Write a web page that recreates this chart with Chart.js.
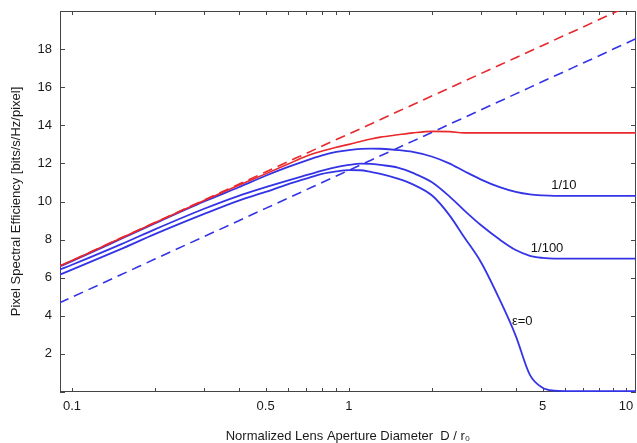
<!DOCTYPE html>
<html>
<head>
<meta charset="utf-8">
<script src="https://cdn.jsdelivr.net/npm/chart.js@4.4.1/dist/chart.umd.min.js"></script>
<style>
  html, body { margin: 0; padding: 0; background: #fff; }
  #wrap { width: 637px; height: 443px; }
</style>
</head>
<body>
<div id="wrap"><canvas id="chart" width="637" height="443"></canvas></div>
<script>
// D / r0 sample points (log axis)
const dRatio = [0.09, 0.1, 0.15, 0.2, 0.3, 0.4, 0.5, 0.6, 0.7, 0.8, 0.9, 1, 1.1, 1.2, 1.3, 1.5,
  1.7, 2, 2.3, 2.6, 3, 3.5, 4, 4.5, 5, 5.5, 6, 7, 8, 9, 11];

// red: dashed ideal and solid limit
const redIdeal = [6.6, 6.9, 8.08, 8.91, 10.08, 10.91, 11.55, 12.08, 12.52, 12.91, 13.25, 13.55,
  13.82, 14.07, 14.3, 14.72, 15.08, 15.55, 15.95, 16.31, 16.72, 17.16, 17.55, 17.89, 18.19,
  18.47, 18.72, 19.16, 19.55, 19.89, 20.46];
const redSolid = [6.62, 6.9, 8.07, 8.9, 10.05, 10.85, 11.45, 11.95, 12.38, 12.65, 12.85, 13.0,
  13.15, 13.28, 13.38, 13.5, 13.6, 13.68, 13.67, 13.6, 13.6, 13.6, 13.6, 13.6, 13.6, 13.6,
  13.6, 13.6, 13.6, 13.6, 13.6];

// blue: dashed ideal and the three epsilon curves
const blueIdeal = [4.68, 4.98, 6.15, 6.99, 8.16, 8.99, 9.64, 10.16, 10.61, 11.0, 11.34, 11.64,
  11.92, 12.17, 12.4, 12.81, 13.17, 13.64, 14.05, 14.4, 14.82, 15.26, 15.65, 15.99, 16.3,
  16.57, 16.82, 17.27, 17.65, 18.0, 18.58];
const eps10 = [6.58, 6.87, 8.03, 8.86, 10.0, 10.75, 11.35, 11.8, 12.15, 12.42, 12.6, 12.7,
  12.76, 12.78, 12.77, 12.7, 12.6, 12.35, 12.0, 11.6, 11.15, 10.75, 10.5, 10.37, 10.32,
  10.3, 10.3, 10.3, 10.3, 10.3, 10.3];
const eps100 = [6.42, 6.68, 7.75, 8.55, 9.62, 10.3, 10.75, 11.1, 11.38, 11.62, 11.8, 11.92,
  11.99, 11.98, 11.92, 11.78, 11.5, 11.0, 10.28, 9.55, 8.75, 8.0, 7.45, 7.15, 7.04, 7.0,
  7.0, 7.0, 7.0, 7.0, 7.0];
const eps0 = [6.15, 6.42, 7.5, 8.3, 9.35, 10.05, 10.5, 10.9, 11.2, 11.45, 11.58, 11.65,
  11.64, 11.55, 11.45, 11.2, 10.9, 10.3, 9.3, 8.15, 6.8, 4.85, 2.95, 0.9, 0.22, 0.07,
  0.05, 0.05, 0.05, 0.05, 0.05];

// ticks
const xTicks = [0.1, 0.2, 0.3, 0.4, 0.5, 0.6, 0.7, 0.8, 0.9, 1, 2, 3, 4, 5, 6, 7, 8, 9, 10];
const xLabels = ['0.1', '0.5', '1', '5', '10'];
const yTicks = [0, 2, 4, 6, 8, 10, 12, 14, 16, 18, 20];
const yLabels = ['2', '4', '6', '8', '10', '12', '14', '16', '18'];

const curveLabels = [
  { text: '1/10', x: 5.97, y: 10.87 },
  { text: '1/100', x: 5.19, y: 7.55 },
  { text: 'ε=0', x: 4.22, y: 3.73 }
];

const RED = '#e8282c';
const BLUE = '#3434e6';
const FONT = '"Liberation Sans", Arial, Helvetica, sans-serif';

const pts = ys => dRatio.map((x, i) => ({ x, y: ys[i] }));

function line(ys, color, dashed, width) {
  return {
    data: pts(ys),
    borderColor: color,
    borderWidth: width,
    borderDash: dashed ? [10, 6] : [],
    pointRadius: 0,
    fill: false,
    cubicInterpolationMode: 'monotone'
  };
}

// box + inward tick marks on all four sides (gnuplot style)
const frame = {
  id: 'frame',
  beforeDatasetsDraw(chart) {
    const { ctx, chartArea: a, scales: { x, y } } = chart;
    ctx.save();
    ctx.strokeStyle = '#444';
    ctx.lineWidth = 1;
    ctx.strokeRect(Math.round(a.left) + 0.5, Math.round(a.top) + 0.5,
      Math.round(a.right - a.left) - 1, Math.round(a.bottom - a.top) - 1);
    ctx.beginPath();
    x.ticks.forEach(t => {
      const px = Math.round(x.getPixelForValue(t.value)) + 0.5;
      ctx.moveTo(px, a.bottom); ctx.lineTo(px, a.bottom - 4);
      ctx.moveTo(px, a.top); ctx.lineTo(px, a.top + 4);
    });
    y.ticks.forEach(t => {
      const py = Math.round(y.getPixelForValue(t.value)) + 0.5;
      ctx.moveTo(a.left, py); ctx.lineTo(a.left + 5, py);
      ctx.moveTo(a.right, py); ctx.lineTo(a.right - 5, py);
    });
    ctx.stroke();
    ctx.restore();
  },
  afterDatasetsDraw(chart) {
    const { ctx, scales: { x, y } } = chart;
    ctx.save();
    ctx.fillStyle = '#111';
    ctx.font = '13px ' + FONT;
    ctx.textAlign = 'center';
    ctx.textBaseline = 'middle';
    curveLabels.forEach(l => {
      ctx.fillText(l.text, x.getPixelForValue(l.x), y.getPixelForValue(l.y));
    });
    ctx.restore();
  }
};

new Chart(document.getElementById('chart'), {
  type: 'line',
  data: {
    datasets: [
      line(redSolid, RED, false, 1.6),
      line(redIdeal, RED, true, 1.6),
      line(eps10, BLUE, false, 1.8),
      line(eps100, BLUE, false, 1.8),
      line(eps0, BLUE, false, 1.8),
      line(blueIdeal, BLUE, true, 1.6)
    ]
  },
  options: {
    responsive: false,
    animation: false,
    devicePixelRatio: 1,
    layout: { padding: { top: 11, right: 1, left: 0, bottom: 0 } },
    plugins: { legend: { display: false }, tooltip: { enabled: false } },
    scales: {
      x: {
        type: 'logarithmic',
        min: 0.0905,
        max: 10.87,
        afterBuildTicks: axis => { axis.ticks = xTicks.map(v => ({ value: v })); },
        afterFit: axis => {
          axis.height = 51;
          axis.paddingLeft = 0;
          axis.paddingRight = 0;
        },
        grid: { display: false, drawTicks: false },
        border: { display: false },
        ticks: {
          autoSkip: false,
          maxRotation: 0,
          padding: 7,
          color: '#1a1a1a',
          font: { family: FONT, size: 13 },
          callback: v => (xLabels.includes(String(v)) ? String(v) : '')
        },
        title: {
          display: true,
          text: 'Normalized Lens Aperture Diameter  D / r₀',
          color: '#1a1a1a',
          font: { family: FONT, size: 13 },
          padding: { top: 0, bottom: -1.5 }
        }
      },
      y: {
        min: 0,
        max: 20,
        afterBuildTicks: axis => { axis.ticks = yTicks.map(v => ({ value: v })); },
        afterFit: axis => {
          axis.width = 60;
          axis.paddingTop = 0;
          axis.paddingBottom = 0;
        },
        grid: { display: false, drawTicks: false },
        border: { display: false },
        ticks: {
          padding: 8,
          color: '#1a1a1a',
          font: { family: FONT, size: 13 },
          callback: v => (yLabels.includes(String(v)) ? String(v) : '')
        },
        title: {
          display: true,
          text: 'Pixel Spectral Efficiency [bits/s/Hz/pixel]',
          color: '#1a1a1a',
          font: { family: FONT, size: 13 },
          padding: { top: 9, bottom: 0 }
        }
      }
    }
  },
  plugins: [frame]
});
</script>
</body>
</html>
